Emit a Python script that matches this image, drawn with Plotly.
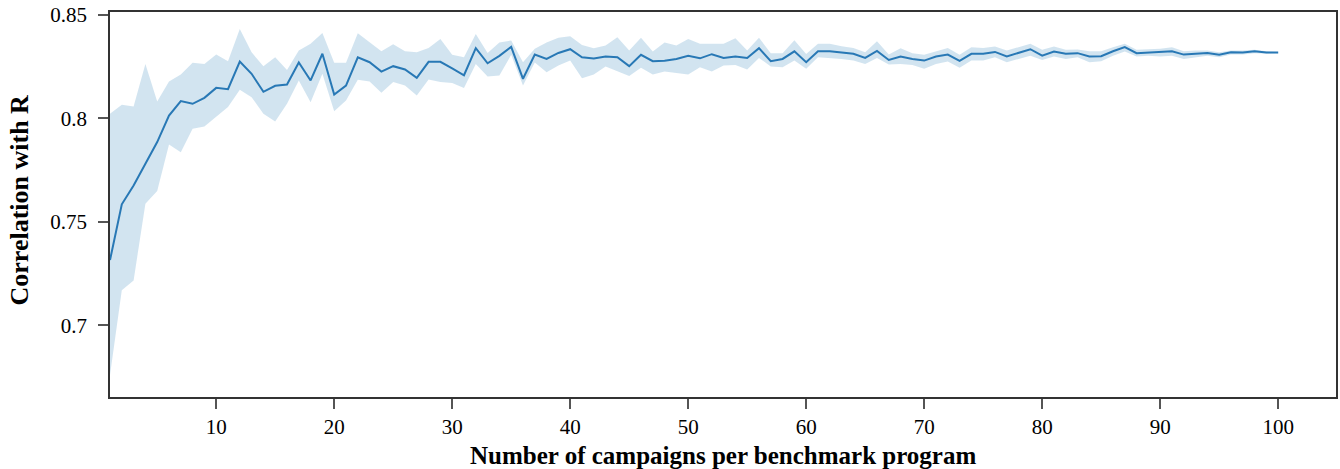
import plotly.graph_objects as go

campaigns = list(range(1, 101))

mean_corr = [0.7315, 0.7585, 0.7676, 0.7781, 0.7886, 0.8014, 0.8084, 0.8071, 0.8100, 0.8148,
             0.8142, 0.8275, 0.8216, 0.8129, 0.8158, 0.8164, 0.8271, 0.8184, 0.8313, 0.8116,
             0.8159, 0.8296, 0.8272, 0.8227, 0.8253, 0.8237, 0.8197, 0.8274, 0.8274, 0.8242,
             0.8209, 0.8340, 0.8267, 0.8303, 0.8346, 0.8192, 0.8309, 0.8288, 0.8317, 0.8335,
             0.8296, 0.8290, 0.8300, 0.8296, 0.8253, 0.8308, 0.8277, 0.8279, 0.8288, 0.8303,
             0.8291, 0.8311, 0.8293, 0.8300, 0.8293, 0.8340, 0.8277, 0.8288, 0.8325, 0.8272,
             0.8325, 0.8325, 0.8320, 0.8313, 0.8293, 0.8327, 0.8283, 0.8300, 0.8288, 0.8280,
             0.8300, 0.8309, 0.8279, 0.8313, 0.8313, 0.8322, 0.8300, 0.8317, 0.8335, 0.8304,
             0.8324, 0.8313, 0.8316, 0.8300, 0.8301, 0.8325, 0.8345, 0.8316, 0.8319, 0.8322,
             0.8325, 0.8309, 0.8314, 0.8317, 0.8308, 0.8320, 0.8319, 0.8325, 0.8319, 0.8319]

upper_corr = [0.8023, 0.8066, 0.8058, 0.8264, 0.8082, 0.8179, 0.8213, 0.8269, 0.8264, 0.8309,
              0.8277, 0.8433, 0.8320, 0.8253, 0.8296, 0.8235, 0.8329, 0.8361, 0.8414, 0.8269,
              0.8269, 0.8412, 0.8369, 0.8325, 0.8359, 0.8325, 0.8320, 0.8341, 0.8385, 0.8308,
              0.8296, 0.8409, 0.8317, 0.8367, 0.8377, 0.8272, 0.8337, 0.8367, 0.8390, 0.8398,
              0.8356, 0.8340, 0.8353, 0.8393, 0.8329, 0.8390, 0.8324, 0.8367, 0.8353, 0.8385,
              0.8361, 0.8361, 0.8361, 0.8388, 0.8329, 0.8390, 0.8316, 0.8316, 0.8378, 0.8312,
              0.8361, 0.8361, 0.8349, 0.8341, 0.8320, 0.8373, 0.8309, 0.8340, 0.8316, 0.8308,
              0.8325, 0.8341, 0.8308, 0.8345, 0.8341, 0.8348, 0.8329, 0.8345, 0.8361, 0.8332,
              0.8348, 0.8332, 0.8334, 0.8325, 0.8325, 0.8345, 0.8361, 0.8332, 0.8334, 0.8337,
              0.8345, 0.8325, 0.8329, 0.8329, 0.8320, 0.8329, 0.8329, 0.8332, 0.8325, 0.8320]

lower_corr = [0.6760, 0.7169, 0.7217, 0.7588, 0.7649, 0.7874, 0.7837, 0.7950, 0.7961, 0.8006,
              0.8055, 0.8139, 0.8103, 0.8023, 0.7986, 0.8071, 0.8184, 0.8079, 0.8216, 0.8035,
              0.8087, 0.8187, 0.8179, 0.8124, 0.8176, 0.8159, 0.8111, 0.8188, 0.8176, 0.8172,
              0.8147, 0.8264, 0.8203, 0.8208, 0.8308, 0.8159, 0.8271, 0.8224, 0.8256, 0.8280,
              0.8195, 0.8213, 0.8251, 0.8229, 0.8205, 0.8245, 0.8213, 0.8227, 0.8219, 0.8213,
              0.8248, 0.8227, 0.8256, 0.8259, 0.8237, 0.8293, 0.8251, 0.8248, 0.8280, 0.8240,
              0.8296, 0.8293, 0.8288, 0.8280, 0.8264, 0.8293, 0.8261, 0.8264, 0.8259, 0.8240,
              0.8264, 0.8275, 0.8245, 0.8280, 0.8280, 0.8296, 0.8272, 0.8288, 0.8304, 0.8283,
              0.8300, 0.8288, 0.8296, 0.8272, 0.8277, 0.8304, 0.8324, 0.8300, 0.8303, 0.8300,
              0.8304, 0.8288, 0.8296, 0.8304, 0.8296, 0.8309, 0.8309, 0.8316, 0.8313, 0.8316]

x_tick_vals = [10, 20, 30, 40, 50, 60, 70, 80, 90, 100]
y_tick_vals = [0.7, 0.75, 0.8, 0.85]
y_tick_text = ["0.7", "0.75", "0.8", "0.85"]
x_title = "Number of campaigns per benchmark program"
y_title = "Correlation with R"

FONT = "Liberation Serif"
LINE_COLOR = "#2878b5"
BAND_COLOR = "rgba(31,119,180,0.2)"
AXIS_COLOR = "#333333"

fig = go.Figure()
fig.add_trace(go.Scatter(x=campaigns, y=lower_corr, mode="lines",
                         line=dict(width=0, color=BAND_COLOR),
                         showlegend=False, hoverinfo="skip"))
fig.add_trace(go.Scatter(x=campaigns, y=upper_corr, mode="lines",
                         line=dict(width=0, color=BAND_COLOR),
                         fill="tonexty", fillcolor=BAND_COLOR,
                         showlegend=False, hoverinfo="skip"))
fig.add_trace(go.Scatter(x=campaigns, y=mean_corr, mode="lines",
                         line=dict(width=2, color=LINE_COLOR),
                         showlegend=False))

fig.update_layout(
    width=1340, height=469,
    margin=dict(l=110, r=4, t=12, b=72),
    paper_bgcolor="white", plot_bgcolor="white",
    font=dict(family=FONT, size=21, color="black"),
    annotations=[
        dict(text="<b>" + x_title + "</b>", xref="paper", yref="paper",
             x=0.5, y=0, yshift=-58, xanchor="center", yanchor="middle",
             showarrow=False, font=dict(family=FONT, size=25, color="black")),
        dict(text="<b>" + y_title + "</b>", xref="paper", yref="paper",
             x=0, xshift=-91, y=0.5, yshift=4, xanchor="center", yanchor="middle",
             textangle=-90, showarrow=False,
             font=dict(family=FONT, size=26, color="black")),
    ],
)
fig.update_xaxes(
    range=[1, 104.9], tickvals=x_tick_vals, automargin=False,
    ticks="outside", ticklen=10, tickwidth=1.5, tickcolor="#555555",
    showline=True, linecolor=AXIS_COLOR, linewidth=1.5, mirror=True,
    showgrid=False, zeroline=False,
    tickfont=dict(family=FONT, size=21),
)
fig.update_yaxes(
    range=[0.6653, 0.8515], tickvals=y_tick_vals, ticktext=y_tick_text,
    automargin=False, ticklabelstandoff=7,
    ticks="outside", ticklen=10, tickwidth=1.5, tickcolor="#555555",
    showline=True, linecolor=AXIS_COLOR, linewidth=1.5, mirror=True,
    showgrid=False, zeroline=False,
    tickfont=dict(family=FONT, size=21),
)

# remove the default 8px page margin so the figure fills the window exactly
fig.write_html("out.html", config={"displayModeBar": False},
               post_script="document.body.style.margin='0';")
